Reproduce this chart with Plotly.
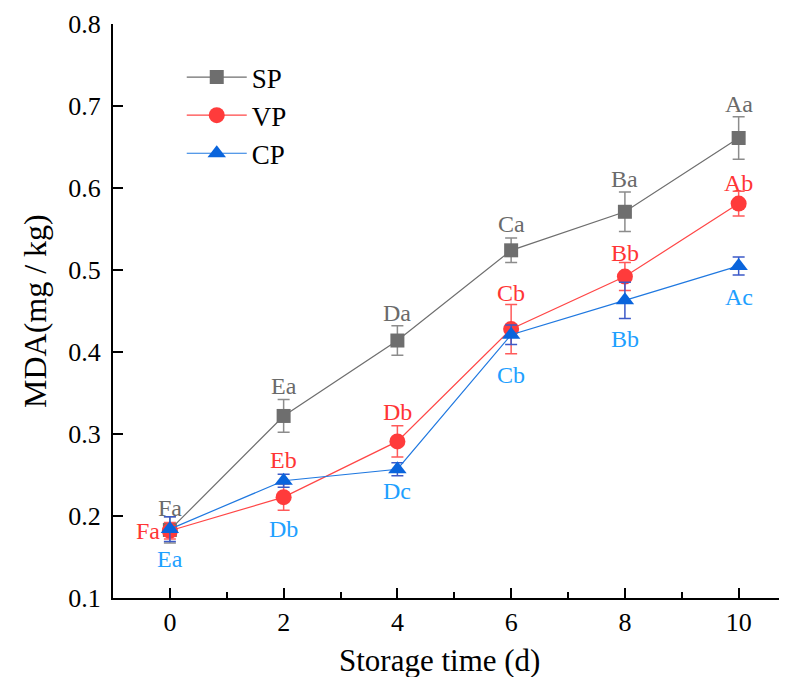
import plotly.graph_objects as go

days = [0, 2, 4, 6, 8, 10]

sp = [0.183, 0.322, 0.414, 0.524, 0.571, 0.661]
sp_err = [0.016, 0.020, 0.018, 0.015, 0.024, 0.026]
sp_lbl = ["Fa", "Ea", "Da", "Ca", "Ba", "Aa"]

vp = [0.182, 0.223, 0.291, 0.428, 0.492, 0.581]
vp_err = [0.010, 0.016, 0.019, 0.030, 0.017, 0.015]
vp_lbl = ["Fa", "Eb", "Db", "Cb", "Bb", "Ab"]

cp = [0.184, 0.243, 0.257, 0.421, 0.463, 0.505]
cp_err = [0.015, 0.008, 0.008, 0.012, 0.022, 0.011]
cp_lbl = ["Ea", "Db", "Dc", "Cb", "Bb", "Ac"]

# label offsets in pixels (x, y) relative to the point
sp_off = [(0, 22), (0, 30), (0, 28), (0, 26), (0, 33), (0, 34)]
vp_off = [(-22, 0), (0, 37), (0, 29), (0, 36), (0, 24), (0, 21)]
cp_off = [(0, -30), (0, -48), (0, -22), (0, -40), (0, -39), (0, -31)]

FONT = "'Liberation Serif'"

series = [
    ("SP", sp, sp_err, sp_lbl, sp_off, "#6e6e6e", "#6e6e6e", "#8c8c8c", "#6a6a6a", "square", 14),
    ("VP", vp, vp_err, vp_lbl, vp_off, "#ff4646", "#ff3b3b", "#ff5a5a", "#ff3535", "circle", 16),
    ("CP", cp, cp_err, cp_lbl, cp_off, "#1f78e0", "#0a64dc", "#3c5ac8", "#1ea0ff", "triangle-up", 16),
]

fig = go.Figure()
for name, vals, errs, lbls, offs, lc, mc, ec, tc, sym, ms in series:
    fig.add_trace(go.Scatter(
        x=days, y=vals, name=name, mode="lines+markers",
        line=dict(color=lc, width=1.2),
        marker=dict(symbol=sym, size=ms, color=mc),
        error_y=dict(type="data", array=errs, visible=True, color=ec, thickness=1.5, width=6),
    ))

for name, vals, errs, lbls, offs, lc, mc, ec, tc, sym, ms in series:
    for xv, yv, lb, (dx, dy) in zip(days, vals, lbls, offs):
        fig.add_annotation(x=xv, y=yv, text=lb, showarrow=False,
                           xshift=dx, yshift=dy,
                           font=dict(family=FONT, size=24, color=tc))

# axis titles
fig.add_annotation(xref="paper", yref="paper", x=0.485, y=0, yshift=-62,
                   xanchor="center", yanchor="middle", showarrow=False,
                   text="Storage time (d)", font=dict(family=FONT, size=31, color="black"))
fig.add_annotation(xref="paper", yref="paper", x=0, y=0.5, xshift=-78,
                   xanchor="center", yanchor="middle", showarrow=False, textangle=-90,
                   text="MDA(mg / kg)", font=dict(family=FONT, size=32, color="black"))

fig.update_layout(
    width=779, height=669,
    margin=dict(l=105, r=0, t=16, b=79),
    paper_bgcolor="white", plot_bgcolor="white",
    font=dict(family=FONT, color="black"),
    showlegend=True,
    legend=dict(x=0.102, y=0.9495, xanchor="left", yanchor="top",
                bgcolor="rgba(0,0,0,0)", font=dict(family=FONT, size=27, color="black"),
                tracegroupgap=0, itemwidth=60),
)
fig.update_xaxes(
    range=[-1, 10.85], tickmode="array", tickvals=days, ticktext=[str(d) for d in days],
    ticks="inside", ticklen=10, tickwidth=2, tickcolor="black", automargin=False,
    showline=True, linecolor="black", linewidth=2, showgrid=False, zeroline=False,
    tickfont=dict(family=FONT, size=26, color="black"),
    minor=dict(ticks="inside", ticklen=6, tickwidth=2, tickcolor="black", dtick=1, showgrid=False),
)
fig.update_yaxes(
    range=[0.1, 0.8], tickmode="array", tickvals=[0.1, 0.2, 0.3, 0.4, 0.5, 0.6, 0.7, 0.8],
    ticktext=["0.1", "0.2", "0.3", "0.4", "0.5", "0.6", "0.7", "0.8"],
    ticks="inside", ticklen=10, tickwidth=2, tickcolor="black", automargin=False,
    ticklabelstandoff=5,
    showline=True, linecolor="black", linewidth=2, showgrid=False, zeroline=False,
    tickfont=dict(family=FONT, size=26, color="black"),
)

fig.write_html("out.html")
